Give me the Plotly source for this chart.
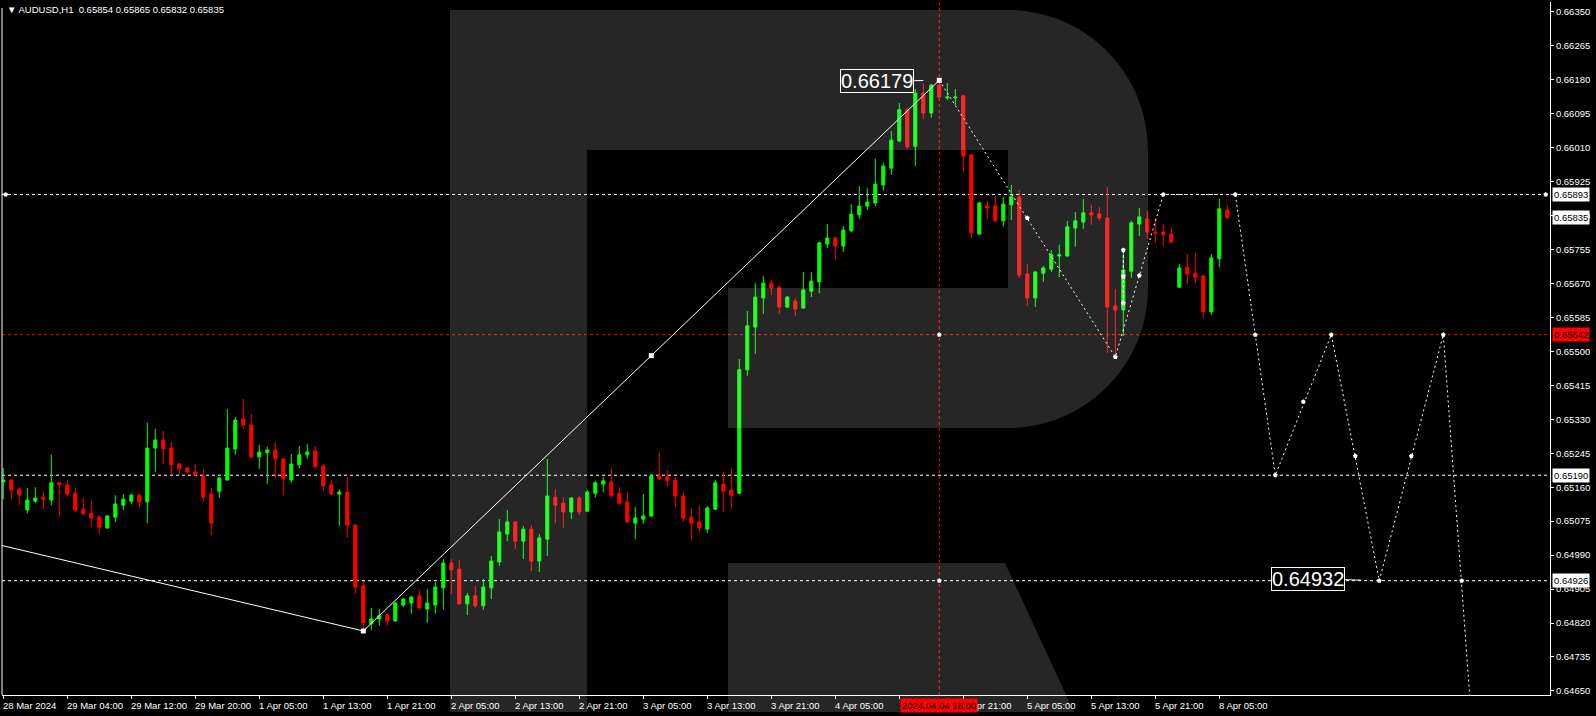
import plotly.graph_objects as go

# ---------------- data ----------------
title_text = "\u25bc AUDUSD,H1\u00a0\u00a00.65854 0.65865 0.65832 0.65835"

time_labels = ["28 Mar 2024", "29 Mar 04:00", "29 Mar 12:00", "29 Mar 20:00", "1 Apr 05:00",
               "1 Apr 13:00", "1 Apr 21:00", "2 Apr 05:00", "2 Apr 13:00", "2 Apr 21:00",
               "3 Apr 05:00", "3 Apr 13:00", "3 Apr 21:00", "4 Apr 05:00", "4 Apr 13:00",
               "4 Apr 21:00", "5 Apr 05:00", "5 Apr 13:00", "5 Apr 21:00", "8 Apr 05:00"]
label_every = 8
crosshair_bar = 117
crosshair_label = "2024.04.04 18:00"

opens = [0.65173, 0.65178, 0.65155, 0.65103, 0.65125, 0.65135, 0.65128, 0.65171, 0.65166, 0.65145,
         0.65105, 0.65095, 0.65085, 0.65058, 0.65085, 0.65115, 0.65125, 0.65140, 0.65123, 0.65258,
         0.65278, 0.65258, 0.65218, 0.65208, 0.65198, 0.65188, 0.65143, 0.65150, 0.65178, 0.65256,
         0.65331, 0.65316, 0.65236, 0.65246, 0.65253, 0.65231, 0.65178, 0.65216, 0.65241, 0.65251,
         0.65213, 0.65166, 0.65143, 0.65148, 0.65065, 0.64913, 0.64818, 0.64830, 0.64840, 0.64825,
         0.64865, 0.64870, 0.64888, 0.64855, 0.64865, 0.64908, 0.64970, 0.64955, 0.64868, 0.64888,
         0.64863, 0.64908, 0.64973, 0.65043, 0.65073, 0.65025, 0.65055, 0.64975, 0.65030, 0.65135,
         0.65120, 0.65098, 0.65133, 0.65100, 0.65145, 0.65168, 0.65173, 0.65145, 0.65123, 0.65070,
         0.65080, 0.65088, 0.65188, 0.65186, 0.65178, 0.65138, 0.65085, 0.65073, 0.65055, 0.65105,
         0.65168, 0.65153, 0.65145, 0.65454, 0.65561, 0.65634, 0.65671, 0.65661, 0.65611, 0.65626,
         0.65609, 0.65651, 0.65674, 0.65769, 0.65784, 0.65764, 0.65802, 0.65842, 0.65864, 0.65872,
         0.65917, 0.65959, 0.66027, 0.66105, 0.66014, 0.66147, 0.66097, 0.66167, 0.66135, 0.66135,
         0.66140, 0.65992, 0.65794, 0.65864, 0.65864, 0.65827, 0.65867, 0.65887, 0.65694, 0.65634,
         0.65696, 0.65706, 0.65739, 0.65739, 0.65809, 0.65824, 0.65847, 0.65844, 0.65834, 0.65614,
         0.65604, 0.65701, 0.65819, 0.65832, 0.65799, 0.65799, 0.65794, 0.65661, 0.65711, 0.65696,
         0.65689, 0.65599, 0.65732, 0.65854]
highs = [0.65208, 0.65181, 0.65158, 0.65158, 0.65160, 0.65148, 0.65241, 0.65173, 0.65178, 0.65158,
         0.65133, 0.65128, 0.65090, 0.65090, 0.65140, 0.65143, 0.65145, 0.65143, 0.65321, 0.65306,
         0.65301, 0.65273, 0.65221, 0.65211, 0.65218, 0.65206, 0.65158, 0.65186, 0.65356, 0.65336,
         0.65381, 0.65343, 0.65266, 0.65261, 0.65273, 0.65233, 0.65243, 0.65263, 0.65268, 0.65263,
         0.65218, 0.65178, 0.65155, 0.65186, 0.65068, 0.64925, 0.64858, 0.64855, 0.64843, 0.64873,
         0.64883, 0.64888, 0.64903, 0.64905, 0.64923, 0.64980, 0.64980, 0.64978, 0.64895, 0.64913,
         0.64930, 0.64988, 0.65080, 0.65103, 0.65075, 0.65063, 0.65065, 0.65043, 0.65231, 0.65155,
         0.65135, 0.65135, 0.65138, 0.65153, 0.65176, 0.65186, 0.65206, 0.65160, 0.65148, 0.65110,
         0.65143, 0.65193, 0.65246, 0.65203, 0.65186, 0.65148, 0.65108, 0.65113, 0.65113, 0.65178,
         0.65198, 0.65208, 0.65481, 0.65601, 0.65671, 0.65689, 0.65679, 0.65664, 0.65639, 0.65634,
         0.65699, 0.65699, 0.65774, 0.65819, 0.65787, 0.65814, 0.65869, 0.65914, 0.65909, 0.65982,
         0.65972, 0.66052, 0.66122, 0.66110, 0.66157, 0.66172, 0.66170, 0.66179, 0.66172, 0.66157,
         0.66142, 0.65994, 0.65874, 0.65877, 0.65889, 0.65887, 0.65917, 0.65904, 0.65719, 0.65701,
         0.65714, 0.65754, 0.65767, 0.65827, 0.65849, 0.65882, 0.65867, 0.65862, 0.65912, 0.65656,
         0.65754, 0.65827, 0.65859, 0.65852, 0.65834, 0.65819, 0.65812, 0.65719, 0.65744, 0.65747,
         0.65691, 0.65744, 0.65882, 0.65865]
lows = [0.65130, 0.65130, 0.65115, 0.65095, 0.65120, 0.65105, 0.65115, 0.65085, 0.65138, 0.65098,
        0.65093, 0.65060, 0.65043, 0.65055, 0.65073, 0.65103, 0.65118, 0.65110, 0.65070, 0.65198,
        0.65218, 0.65193, 0.65191, 0.65196, 0.65188, 0.65125, 0.65040, 0.65133, 0.65176, 0.65241,
        0.65306, 0.65231, 0.65206, 0.65168, 0.65183, 0.65140, 0.65171, 0.65208, 0.65231, 0.65208,
        0.65150, 0.65140, 0.65063, 0.65033, 0.64893, 0.64800, 0.64802, 0.64813, 0.64813, 0.64823,
        0.64860, 0.64843, 0.64853, 0.64820, 0.64843, 0.64853, 0.64893, 0.64865, 0.64840, 0.64858,
        0.64853, 0.64880, 0.64963, 0.65025, 0.65005, 0.64980, 0.64950, 0.64948, 0.64988, 0.65070,
        0.65058, 0.65080, 0.65090, 0.65098, 0.65135, 0.65148, 0.65135, 0.65115, 0.65070, 0.65030,
        0.65068, 0.65085, 0.65178, 0.65160, 0.65110, 0.65073, 0.65028, 0.65048, 0.65045, 0.65103,
        0.65098, 0.65105, 0.65143, 0.65439, 0.65494, 0.65594, 0.65641, 0.65594, 0.65609, 0.65589,
        0.65606, 0.65636, 0.65646, 0.65759, 0.65729, 0.65749, 0.65799, 0.65832, 0.65854, 0.65864,
        0.65902, 0.65942, 0.66024, 0.66007, 0.65964, 0.66082, 0.66085, 0.66127, 0.66130, 0.66117,
        0.65949, 0.65784, 0.65792, 0.65832, 0.65824, 0.65812, 0.65829, 0.65684, 0.65614, 0.65611,
        0.65674, 0.65699, 0.65686, 0.65737, 0.65762, 0.65807, 0.65817, 0.65827, 0.65496, 0.65491,
        0.65539, 0.65684, 0.65789, 0.65782, 0.65772, 0.65764, 0.65772, 0.65659, 0.65669, 0.65671,
        0.65584, 0.65591, 0.65711, 0.65832]
closes = [0.65178, 0.65153, 0.65140, 0.65128, 0.65133, 0.65130, 0.65171, 0.65166, 0.65143, 0.65103,
          0.65093, 0.65083, 0.65060, 0.65088, 0.65118, 0.65130, 0.65140, 0.65123, 0.65258, 0.65278,
          0.65256, 0.65216, 0.65206, 0.65198, 0.65191, 0.65135, 0.65070, 0.65183, 0.65258, 0.65328,
          0.65316, 0.65236, 0.65248, 0.65253, 0.65231, 0.65181, 0.65218, 0.65241, 0.65248, 0.65211,
          0.65163, 0.65143, 0.65148, 0.65065, 0.64910, 0.64820, 0.64830, 0.64838, 0.64825, 0.64870,
          0.64880, 0.64885, 0.64858, 0.64870, 0.64910, 0.64970, 0.64953, 0.64868, 0.64888, 0.64863,
          0.64910, 0.64975, 0.65048, 0.65073, 0.65025, 0.65055, 0.64975, 0.65033, 0.65138, 0.65115,
          0.65098, 0.65133, 0.65098, 0.65148, 0.65171, 0.65176, 0.65140, 0.65120, 0.65073, 0.65083,
          0.65088, 0.65188, 0.65181, 0.65176, 0.65138, 0.65083, 0.65070, 0.65058, 0.65108, 0.65171,
          0.65150, 0.65140, 0.65454, 0.65564, 0.65636, 0.65671, 0.65659, 0.65611, 0.65636, 0.65606,
          0.65654, 0.65676, 0.65772, 0.65784, 0.65764, 0.65804, 0.65844, 0.65864, 0.65874, 0.65919,
          0.65964, 0.66029, 0.66105, 0.66012, 0.66147, 0.66097, 0.66167, 0.66137, 0.66137, 0.66137,
          0.65989, 0.65797, 0.65872, 0.65859, 0.65827, 0.65869, 0.65887, 0.65691, 0.65634, 0.65699,
          0.65709, 0.65742, 0.65742, 0.65812, 0.65827, 0.65847, 0.65842, 0.65834, 0.65611, 0.65604,
          0.65704, 0.65822, 0.65837, 0.65799, 0.65797, 0.65792, 0.65774, 0.65709, 0.65694, 0.65686,
          0.65599, 0.65734, 0.65857, 0.65835]

# price scale
y_ticks = [0.66350, 0.66265, 0.66180, 0.66095, 0.66010, 0.65925, 0.65840, 0.65755, 0.65670,
           0.65585, 0.65500, 0.65415, 0.65330, 0.65245, 0.65160, 0.65075, 0.64990, 0.64905,
           0.64820, 0.64735, 0.64650]
y_min, y_max = 0.646397, 0.66375

# horizontal levels
white_levels = [0.65893, 0.65190, 0.64926]
red_level = 0.65542
current_price = 0.65835

# swing (solid) line
swing_x = [-1, 45, 117]
swing_y = [0.65018, 0.64800, 0.66179]
swing_mark_x = [45, 81, 117]
swing_mark_y = [0.64800, 0.654895, 0.66179]

# dotted path and forecast
path_x = [117, 139, 145, 154, 159, 166, 172, 180, 184.5]
path_y = [0.66179, 0.65486, 0.65893, 0.65893, 0.65190, 0.65542, 0.64926, 0.65542, 0.64310]
path_mark_x = [128, 139, 142, 145, 154, 156.5, 159, 162.5, 166, 169, 172, 176, 180, 182.3,
               117, 117, 0.3, 192.8]
path_mark_y = [0.65834, 0.65486, 0.65690, 0.65893, 0.65893, 0.65542, 0.65190, 0.65374, 0.65542,
               0.65238, 0.64926, 0.65238, 0.65542, 0.64926, 0.65542, 0.64926, 0.65893, 0.65893]
vert_x = [140, 140]
vert_y = [0.65754, 0.65621]
vert_mark_y = [0.65754, 0.65688, 0.65621]

peak_label = "0.66179"
low_label = "0.64932"
low_label_bar = 172
low_label_price = 0.64926

# ---------------- figure ----------------
FONT = "Liberation Sans"
bars = list(range(len(opens)))

fig = go.Figure()

fig.add_trace(go.Candlestick(
    x=bars, open=opens, high=highs, low=lows, close=closes,
    increasing=dict(line=dict(color="#00ff00", width=1), fillcolor="#00ff00"),
    decreasing=dict(line=dict(color="#ff0000", width=1), fillcolor="#ff0000"),
    whiskerwidth=0, hoverinfo="skip", showlegend=False))

fig.add_trace(go.Scatter(x=swing_x, y=swing_y, mode="lines",
                         line=dict(color="white", width=1), hoverinfo="skip", showlegend=False))
fig.add_trace(go.Scatter(x=swing_mark_x, y=swing_mark_y, mode="markers",
                         marker=dict(symbol="square", size=5, color="white"),
                         hoverinfo="skip", showlegend=False))
fig.add_trace(go.Scatter(x=path_x, y=path_y, mode="lines",
                         line=dict(color="white", width=1, dash="2px,3px"),
                         hoverinfo="skip", showlegend=False))
fig.add_trace(go.Scatter(x=vert_x, y=vert_y, mode="lines",
                         line=dict(color="white", width=1, dash="3px,2px"),
                         hoverinfo="skip", showlegend=False))
fig.add_trace(go.Scatter(x=path_mark_x + [vert_x[0]] * len(vert_mark_y),
                         y=path_mark_y + vert_mark_y, mode="markers",
                         marker=dict(symbol="pentagon", size=5, color="white"),
                         hoverinfo="skip", showlegend=False))

shapes = []
for lv in white_levels:
    shapes.append(dict(type="line", xref="paper", yref="y", x0=0, x1=1, y0=lv, y1=lv,
                       line=dict(color="white", width=1, dash="3px,3px"), layer="below"))
shapes.append(dict(type="line", xref="paper", yref="y", x0=0, x1=1, y0=red_level, y1=red_level,
                   line=dict(color="#ff0000", width=1, dash="3px,3px"), layer="below"))
shapes.append(dict(type="line", xref="x", yref="paper", x0=crosshair_bar, x1=crosshair_bar,
                   y0=0, y1=1, line=dict(color="#ff0000", width=1, dash="3px,3px"), layer="below"))

# watermark logo (pixel geometry -> paper coords)
PL, PR, PT, PB = 2, 1550, 2, 695
def pt(xp, yp):
    return f"{(xp - PL) / (PR - PL):.5f},{(PB - yp) / (PB - PT):.5f}"
k, r = 0.5523, 140
pathA = ("M" + pt(450, 712) + " L" + pt(450, 10) + " L" + pt(1008, 10) +
         " C" + pt(1008 + r * k, 10) + " " + pt(1148, 150 - r * k) + " " + pt(1148, 150) +
         " L" + pt(1148, 288) +
         " C" + pt(1148, 288 + r * k) + " " + pt(1008 + r * k, 428) + " " + pt(1008, 428) +
         " L" + pt(728, 428) + " L" + pt(728, 288) + " L" + pt(1008, 288) + " L" + pt(1008, 150) +
         " L" + pt(587, 150) + " L" + pt(587, 712) + " Z")
pathB = "M" + pt(728, 563) + " L" + pt(1005, 563) + " L" + pt(1074, 712) + " L" + pt(728, 712) + " Z"
for p in (pathA, pathB):
    shapes.append(dict(type="path", xref="paper", yref="paper", path=p,
                       fillcolor="rgba(255,255,255,0.15)", line=dict(width=0), layer="above"))
# left border
shapes.append(dict(type="line", xref="paper", yref="paper", x0=0, x1=0,
                   y0=0, y1=(PB - 8) / (PB - PT), line=dict(color="white", width=1)))

annotations = []
# title
annotations.append(dict(xref="paper", yref="paper", x=0, y=1, xanchor="left", yanchor="top",
                        xshift=3, yshift=0, text=title_text, showarrow=False,
                        font=dict(family=FONT, size=9.5, color="white")))
# time labels (the one fully under the crosshair label is hidden, as in the terminal)
for i, lab in enumerate(time_labels):
    if i * label_every == 112:
        continue
    annotations.append(dict(xref="x", yref="paper", x=i * label_every, y=0, xanchor="left",
                            yanchor="top", xshift=-2, yshift=-3, text=lab, showarrow=False,
                            font=dict(family=FONT, size=9.5, color="white")))
annotations.append(dict(xref="x", yref="paper", x=crosshair_bar, y=0, xanchor="center",
                        yanchor="top", yshift=-3, text=crosshair_label, showarrow=False,
                        bgcolor="#ff0000", borderpad=1,
                        font=dict(family=FONT, size=9.5, color="black")))
# price boxes on right axis
for lv in [white_levels[0], current_price, white_levels[1], white_levels[2]]:
    annotations.append(dict(xref="paper", yref="y", x=1, y=lv, xanchor="left", yanchor="middle",
                            xshift=2, text=f"{lv:.5f}", showarrow=False, bgcolor="white",
                            borderpad=1, font=dict(family=FONT, size=9.5, color="black")))
annotations.append(dict(xref="paper", yref="y", x=1, y=red_level, xanchor="left", yanchor="middle",
                        xshift=2, text=f"{red_level:.5f}", showarrow=False, bgcolor="#ff0000",
                        borderpad=1, font=dict(family=FONT, size=9.5, color="black")))
# big labels
annotations.append(dict(xref="x", yref="y", x=swing_x[2], y=swing_y[2], ax=-62, ay=1,
                        text=peak_label, showarrow=True, arrowhead=0, arrowwidth=1,
                        arrowcolor="white", standoff=16, bordercolor="white", borderwidth=1,
                        borderpad=0, bgcolor="rgba(0,0,0,0)",
                        font=dict(family=FONT, size=20, color="white")))
annotations.append(dict(xref="x", yref="y", x=low_label_bar, y=low_label_price, ax=-71, ay=-2,
                        text=low_label, showarrow=True, arrowhead=0, arrowwidth=1,
                        arrowcolor="white", standoff=18, bordercolor="white", borderwidth=1,
                        borderpad=0, bgcolor="black",
                        font=dict(family=FONT, size=20, color="white")))

fig.update_layout(
    width=1596, height=716,
    margin=dict(l=2, r=46, t=2, b=21),
    paper_bgcolor="black", plot_bgcolor="black",
    boxgap=0.45,
    shapes=shapes, annotations=annotations,
    showlegend=False,
    xaxis=dict(range=[-0.1625, 193.3375], rangeslider=dict(visible=False),
               tickvals=[i * label_every for i in range(len(time_labels))],
               showticklabels=False, ticks="outside", ticklen=3, tickcolor="white",
               showline=True, linecolor="white", linewidth=1, showgrid=False, zeroline=False,
               fixedrange=True),
    yaxis=dict(range=[y_min, y_max], side="right", tickvals=y_ticks,
               ticktext=[f"{v:.5f}" for v in y_ticks], ticks="outside", ticklen=3,
               tickcolor="white", showline=True, linecolor="white", linewidth=1,
               showgrid=False, zeroline=False,
               tickfont=dict(family=FONT, size=9.5, color="white")),
)

fig.write_html("out.html",
               config={"displayModeBar": False},
               post_script="document.documentElement.style.margin='0';"
                           "document.body.style.margin='0';"
                           "document.body.style.overflow='hidden';"
                           "document.body.style.background='black';")
